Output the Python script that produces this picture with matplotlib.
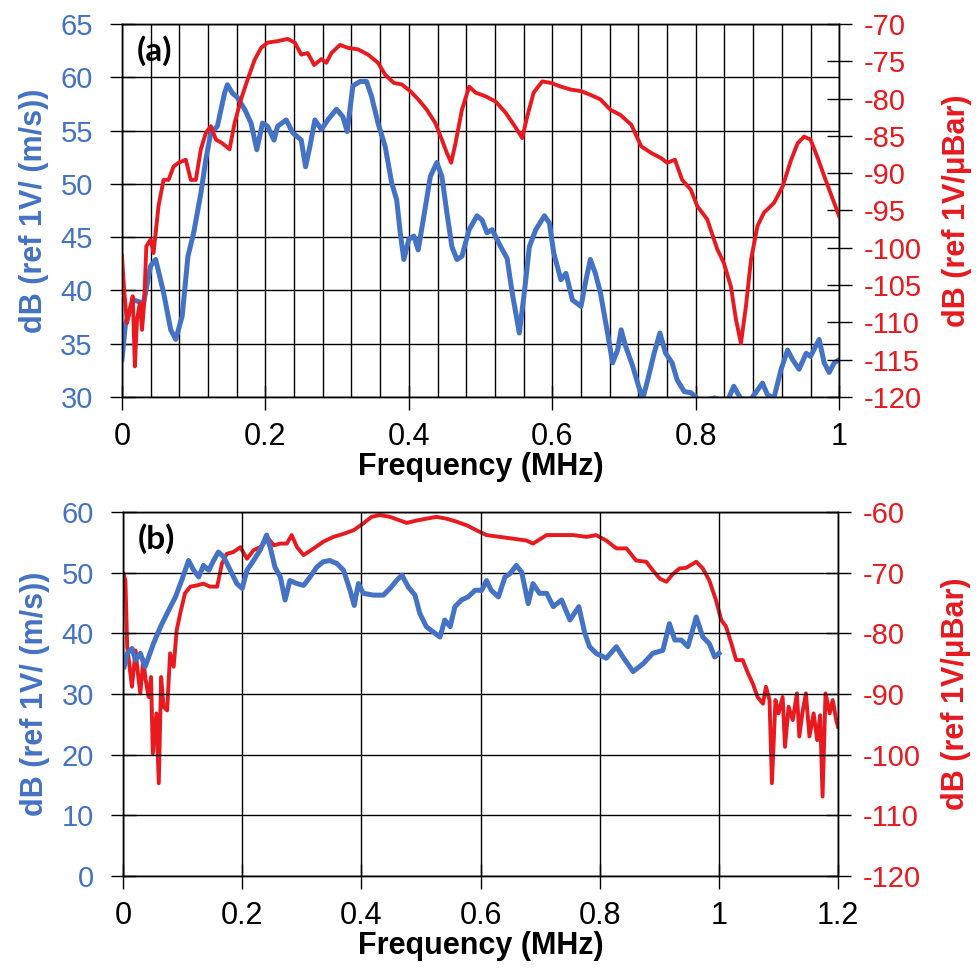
import matplotlib
matplotlib.use("Agg")
import matplotlib.pyplot as plt
from matplotlib.ticker import MultipleLocator

plt.rcParams['font.family'] = ['Liberation Sans', 'DejaVu Sans']
plt.rcParams['axes.unicode_minus'] = False

# colores de las curvas
AZUL = '#4472c4'
ROJO = '#e8191f'

# ---- panel (a) ----
a_azul_f = [0, 0.005, 0.016, 0.03, 0.04, 0.047, 0.058, 0.068, 0.075, 0.084, 0.092, 0.1,
            0.11, 0.117, 0.124, 0.133, 0.143, 0.147, 0.154, 0.161, 0.171, 0.18, 0.188,
            0.196, 0.203, 0.212, 0.217, 0.229, 0.238, 0.25, 0.256, 0.262, 0.269, 0.278,
            0.287, 0.299, 0.308, 0.314, 0.322, 0.332, 0.341, 0.348, 0.357, 0.367, 0.376,
            0.383, 0.388, 0.393, 0.4, 0.407, 0.413, 0.421, 0.43, 0.439, 0.446, 0.453,
            0.46, 0.467, 0.474, 0.484, 0.495, 0.502, 0.509, 0.516, 0.528, 0.537, 0.544,
            0.554, 0.561, 0.568, 0.577, 0.589, 0.596, 0.602, 0.612, 0.619, 0.628, 0.64,
            0.647, 0.653, 0.66, 0.667, 0.677, 0.684, 0.691, 0.696, 0.702, 0.712, 0.719,
            0.726, 0.733, 0.742, 0.75, 0.758, 0.767, 0.774, 0.784, 0.793, 0.807, 0.826,
            0.844, 0.853, 0.863, 0.877, 0.893, 0.9, 0.909, 0.919, 0.928, 0.935, 0.944,
            0.954, 0.96, 0.972, 0.979, 0.986, 0.993, 1.0]
a_azul_db = [33.5, 36.9, 39.1, 38.8, 42.3, 42.9, 39.8, 36.3, 35.4, 37.6, 43.2, 45.4,
             49.1, 52.3, 54.8, 55.4, 58.5, 59.3, 58.5, 58.1, 57.0, 55.7, 53.2,
             55.7, 55.4, 54.1, 55.4, 56.0, 54.8, 54.1, 51.6, 53.5, 56.0, 55.1,
             56.0, 57.0, 56.3, 54.9, 59.2, 59.6, 59.6, 58.2, 55.7, 53.5, 50.1,
             48.5, 45.4, 42.9, 44.8, 45.1, 43.8, 47.0, 50.7, 52.0, 50.7, 47.3,
             44.1, 42.9, 43.2, 45.7, 47.0, 46.6, 45.4, 45.7, 44.1, 43.0, 39.8,
             36.0, 39.8, 44.1, 45.7, 47.0, 46.3, 43.5, 41.0, 41.6, 39.1, 38.5,
             41.0, 42.9, 41.6, 39.8, 36.0, 33.2, 34.4, 36.3, 34.8, 32.9, 31.3,
             29.8, 31.6, 34.1, 36.0, 34.1, 33.2, 31.6, 30.5, 30.4, 29.6, 29.9,
             29.6, 31.0, 29.8, 29.8, 31.3, 30.2, 29.9, 32.6, 34.4, 33.5, 32.6,
             34.1, 33.8, 35.4, 33.2, 32.3, 33.2, 33.5]

a_rojo_f = [0, 0.003, 0.007, 0.012, 0.015, 0.018, 0.021, 0.025, 0.028, 0.031, 0.034, 0.04,
            0.044, 0.051, 0.058, 0.065, 0.072, 0.079, 0.089, 0.096, 0.103, 0.11, 0.117,
            0.124, 0.131, 0.14, 0.15, 0.157, 0.166, 0.175, 0.185, 0.194, 0.203, 0.217,
            0.231, 0.241, 0.25, 0.259, 0.268, 0.278, 0.285, 0.292, 0.304, 0.315, 0.329,
            0.343, 0.357, 0.367, 0.379, 0.39, 0.402, 0.413, 0.425, 0.437, 0.446, 0.453,
            0.459, 0.465, 0.474, 0.484, 0.493, 0.507, 0.521, 0.535, 0.549, 0.558, 0.565,
            0.574, 0.586, 0.598, 0.612, 0.626, 0.64, 0.653, 0.667, 0.681, 0.695, 0.71,
            0.724, 0.738, 0.752, 0.76, 0.771, 0.781, 0.793, 0.802, 0.816, 0.83, 0.839,
            0.849, 0.856, 0.863, 0.87, 0.877, 0.886, 0.895, 0.909, 0.921, 0.933, 0.942,
            0.951, 0.96, 0.969, 0.981, 0.993, 1.0]
a_rojo_db = [-101.1, -105.6, -110.1, -107.8, -106.5, -115.9, -109.6, -107.4, -111.0, -107.4,
             -99.8, -98.9, -100.7, -94.4, -90.9, -90.9, -89.1, -88.6, -88.2, -90.9, -90.9,
             -86.8, -84.6, -83.7, -85.5, -86.0, -86.8, -83.3, -80.1, -77.5, -74.8, -73.2,
             -72.5, -72.3, -72.0, -72.5, -74.1, -73.9, -75.5, -74.7, -75.2, -73.9, -72.8,
             -73.2, -73.4, -74.1, -75.2, -76.8, -77.9, -78.1, -79.0, -80.1, -81.5, -83.3,
             -85.5, -87.3, -88.6, -86.0, -81.5, -78.4, -79.2, -79.7, -80.4, -81.9, -83.9,
             -85.3, -82.4, -79.2, -77.7, -77.9, -78.4, -78.8, -79.0, -79.5, -80.1, -81.5,
             -82.2, -83.5, -86.4, -87.3, -88.0, -88.6, -88.2, -90.9, -92.2, -94.4, -96.2,
             -100.2, -102.0, -105.2, -109.6, -112.8, -107.8, -101.6, -97.1, -95.3, -94.0,
             -91.8, -88.2, -86.0, -85.1, -85.5, -87.7, -90.9, -94.0, -95.8]

# ---- panel (b) ----
b_azul_f = [0.002, 0.007, 0.015, 0.021, 0.029, 0.037, 0.043, 0.051, 0.063, 0.074, 0.088,
            0.099, 0.11, 0.118, 0.127, 0.135, 0.144, 0.152, 0.16, 0.169, 0.18, 0.191, 0.2,
            0.208, 0.219, 0.23, 0.241, 0.247, 0.255, 0.264, 0.272, 0.28, 0.292, 0.303,
            0.314, 0.325, 0.336, 0.347, 0.359, 0.37, 0.381, 0.388, 0.395, 0.403, 0.42,
            0.437, 0.448, 0.459, 0.468, 0.479, 0.49, 0.498, 0.509, 0.521, 0.532, 0.54,
            0.549, 0.557, 0.568, 0.579, 0.591, 0.602, 0.61, 0.618, 0.63, 0.641, 0.649,
            0.66, 0.669, 0.68, 0.688, 0.699, 0.711, 0.722, 0.736, 0.75, 0.765, 0.775,
            0.783, 0.794, 0.811, 0.828, 0.839, 0.856, 0.873, 0.889, 0.906, 0.917, 0.926,
            0.937, 0.948, 0.962, 0.973, 0.984, 0.993, 1.0]
b_azul_db = [34.5, 36.7, 37.5, 35.6, 36.7, 34.5, 36.1, 38.3, 41.1, 43.3, 46.0,
             48.9, 52.0, 50.5, 49.3, 51.2, 50.4, 52.0, 53.4, 52.6, 50.4, 48.2, 47.4,
             50.4, 52.0, 53.7, 56.2, 54.2, 50.9, 49.3, 45.5, 48.7, 48.2, 47.9,
             49.3, 50.9, 51.8, 52.0, 51.5, 50.4, 47.1, 44.6, 48.2, 46.6, 46.3,
             46.3, 47.4, 48.7, 49.6, 47.6, 46.3, 43.3, 41.1, 40.2, 39.4, 42.2,
             41.1, 44.4, 45.5, 46.0, 47.1, 47.1, 48.7, 47.1, 46.0, 49.3, 49.8,
             51.2, 50.1, 44.9, 48.2, 46.6, 46.6, 44.4, 45.5, 42.2, 44.4, 40.0,
             37.8, 36.7, 35.9, 37.8, 36.1, 33.7, 35.0, 36.7, 37.2, 41.6, 38.9,
             38.9, 37.8, 42.7, 39.4, 38.3, 36.1, 36.7]

b_rojo_f = [0.001, 0.004, 0.007, 0.011, 0.015, 0.021, 0.025, 0.029, 0.034, 0.038, 0.043,
            0.047, 0.05, 0.056, 0.06, 0.064, 0.068, 0.074, 0.079, 0.085, 0.09, 0.096,
            0.104, 0.113, 0.124, 0.135, 0.146, 0.158, 0.166, 0.174, 0.185, 0.197, 0.208,
            0.219, 0.23, 0.244, 0.253, 0.264, 0.275, 0.283, 0.292, 0.303, 0.32, 0.336,
            0.353, 0.37, 0.387, 0.403, 0.417, 0.431, 0.448, 0.465, 0.476, 0.493, 0.509,
            0.526, 0.543, 0.56, 0.577, 0.593, 0.61, 0.632, 0.655, 0.677, 0.688, 0.711,
            0.733, 0.755, 0.778, 0.794, 0.811, 0.828, 0.845, 0.861, 0.878, 0.889, 0.901,
            0.912, 0.923, 0.934, 0.945, 0.962, 0.973, 0.984, 0.995, 1.004, 1.012, 1.021,
            1.029, 1.04, 1.049, 1.057, 1.065, 1.074, 1.079, 1.085, 1.089, 1.095, 1.1,
            1.107, 1.111, 1.117, 1.124, 1.131, 1.135, 1.14, 1.146, 1.152, 1.159, 1.165,
            1.17, 1.174, 1.179, 1.186, 1.191, 1.197, 1.2]
b_rojo_db = [-70.2, -71.3, -82.2, -85.5, -88.8, -82.8, -86.6, -89.9, -84.4, -87.7, -90.5,
             -87.2, -99.8, -93.2, -104.7, -87.2, -92.1, -92.7, -83.3, -85.5, -79.5, -76.7,
             -73.4, -72.3, -72.1, -71.8, -72.3, -72.3, -68.5, -66.9, -66.6, -65.8, -67.7,
             -66.3, -65.8, -64.4, -65.5, -65.2, -65.2, -63.8, -65.8, -67.1, -66.0, -64.9,
             -64.1, -63.6, -63.0, -61.9, -60.8, -60.5, -60.8, -61.4, -61.8, -61.4, -61.1,
             -60.8, -61.1, -61.6, -62.2, -63.0, -63.8, -64.1, -64.4, -64.7, -65.2, -63.8,
             -63.8, -63.8, -64.1, -63.8, -64.7, -66.0, -66.0, -68.0, -68.2, -69.6, -71.0,
             -71.5, -70.2, -69.3, -69.2, -68.2, -69.3, -71.3, -74.5, -77.8, -78.9, -81.7,
             -84.4, -84.4, -86.6, -88.3, -90.5, -91.6, -88.8, -91.0, -104.7, -91.0, -93.2,
             -90.5, -98.7, -92.1, -94.3, -89.9, -97.0, -93.2, -89.9, -97.0, -93.2, -97.6,
             -93.5, -106.9, -89.9, -93.2, -91.0, -94.3, -95.4]

etiq_izq = 'dB (ref 1V/ (m/s))'
etiq_der = 'dB (ref 1V/\u03bcBar)'
etiq_x = 'Frequency (MHz)'


def formato_eje(ax, ax2):
    # estilo comun de ambos paneles
    for a in (ax, ax2):
        for s in a.spines.values():
            s.set_color('black')
            s.set_linewidth(1.0)
    ax.tick_params(axis='x', which='major', direction='inout', length=18, width=1.0,
                   labelsize=22, pad=9, colors='black')
    ax.tick_params(axis='x', which='minor', length=0)
    ax.tick_params(axis='y', direction='inout', length=18, width=1.0, labelsize=21,
                   pad=12, labelcolor=AZUL)
    ax2.tick_params(axis='y', direction='inout', length=18, width=1.0, labelsize=21,
                    pad=9, labelcolor=ROJO)
    ax.grid(True, which='both', color='black', linewidth=1.0)
    ax.set_xlabel(etiq_x, fontsize=22, fontweight='bold', labelpad=0)
    ax.set_ylabel(etiq_izq, fontsize=22, fontweight='bold', color=AZUL, labelpad=8)
    ax2.set_ylabel(etiq_der, fontsize=22, fontweight='bold', color=ROJO, labelpad=14)


fig = plt.figure(figsize=(9.78, 9.71), dpi=100)

# panel (a)
ax_a = fig.add_axes([0.1247, 0.5912, 0.7334, 0.3841])
ax_a2 = ax_a.twinx()
ax_a.plot(a_azul_f, a_azul_db, color=AZUL, lw=3.6, solid_joinstyle='round')
ax_a2.plot(a_rojo_f, a_rojo_db, color=ROJO, lw=2.8, solid_joinstyle='round')
ax_a.set_xlim(0, 1)
ax_a.set_ylim(30, 65)
ax_a2.set_ylim(-120, -70)
ax_a.set_xticks([0, 0.2, 0.4, 0.6, 0.8, 1.0], ['0', '0.2', '0.4', '0.6', '0.8', '1'])
ax_a.xaxis.set_minor_locator(MultipleLocator(0.04))
ax_a.yaxis.set_major_locator(MultipleLocator(5))
ax_a2.yaxis.set_major_locator(MultipleLocator(5))
formato_eje(ax_a, ax_a2)
ax_a.text(0.02, 0.97, '(a)', transform=ax_a.transAxes, fontsize=24, fontweight='bold',
          family='Lato', va='top', ha='left', zorder=5)

# panel (b)
ax_b = fig.add_axes([0.1258, 0.0978, 0.7311, 0.3749])
ax_b2 = ax_b.twinx()
ax_b.plot(b_azul_f, b_azul_db, color=AZUL, lw=3.6, solid_joinstyle='round')
ax_b2.plot(b_rojo_f, b_rojo_db, color=ROJO, lw=2.8, solid_joinstyle='round')
ax_b.set_zorder(ax_b2.get_zorder() + 1)
ax_b.patch.set_visible(False)
ax_b.set_xlim(0, 1.2)
ax_b.set_ylim(0, 60)
ax_b2.set_ylim(-120, -60)
ax_b.set_xticks([0, 0.2, 0.4, 0.6, 0.8, 1.0, 1.2], ['0', '0.2', '0.4', '0.6', '0.8', '1', '1.2'])
ax_b.yaxis.set_major_locator(MultipleLocator(10))
ax_b2.yaxis.set_major_locator(MultipleLocator(10))
formato_eje(ax_b, ax_b2)
ax_b.text(0.02, 0.97, '(b)', transform=ax_b.transAxes, fontsize=24, fontweight='bold',
          family='Lato', va='top', ha='left', zorder=5)

fig.savefig('out.png', dpi=100)
